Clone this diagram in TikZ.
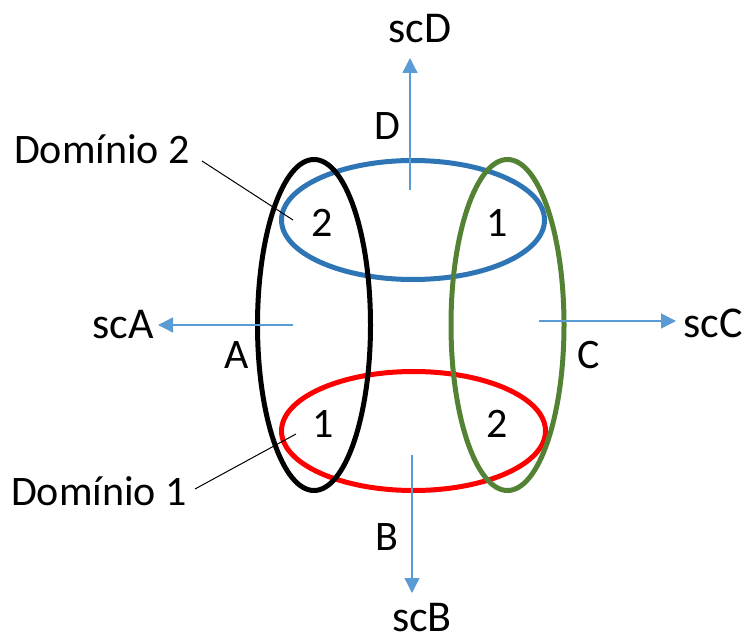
\documentclass[tikz,border=0pt]{standalone}
\usepackage{fontspec}
\setmainfont{Carlito}
\usetikzlibrary{arrows.meta}
\definecolor{ringblue}{HTML}{2E75B6}
\definecolor{ringgreen}{HTML}{548235}
\definecolor{arrowblue}{HTML}{5B9BD5}
\definecolor{ringred}{HTML}{FF0000}
\tikzset{
  ring/.style={line width=5pt},
  scarrow/.style={draw=arrowblue, line width=1.3pt, -{Triangle[width=15pt,length=15pt]}},
  lbl/.style={font=\fontsize{42}{50}\selectfont, anchor=base, inner sep=0pt},
  sclbl/.style={font=\fontsize{44}{50}\selectfont, anchor=base, inner sep=0pt},
  leader/.style={draw=black, line width=1pt}
}
\begin{document}
\begin{tikzpicture}[x=1pt,y=-1pt]
\useasboundingbox (0,0) rectangle (749,636);
% rings
\draw[ring, ringblue] (413,220) ellipse [x radius=131.5, y radius=59.5];
\draw[ring, ringred] (413.5,431) ellipse [x radius=132, y radius=59.5];
\draw[ring, black] (314,325) ellipse [x radius=56.5, y radius=165.5];
\draw[ring, ringgreen] (507.5,325) ellipse [x radius=56.5, y radius=165.5];
% arrows
\coordinate (dS) at (410,190); \coordinate (dE) at (410,58);
\coordinate (bS) at (412,455); \coordinate (bE) at (412,593);
\coordinate (aS) at (293,325); \coordinate (aE) at (158,325);
\coordinate (cS) at (539,321); \coordinate (cE) at (676,321);
\draw[scarrow] (dS) -- (dE);
\draw[scarrow] (bS) -- (bE);
\draw[scarrow] (aS) -- (aE);
\draw[scarrow] (cS) -- (cE);
% labels
\node[sclbl] (scD) at (420,43) {scD};
\node[lbl] (D) at (387,140) {D};
\node[lbl] (B) at (387,550) {B};
\node[sclbl] (scB) at (422,631) {scB};
\node[sclbl] (scA) at (123,338) {scA};
\node[lbl] (A) at (237,368) {A};
\node[sclbl] (scC) at (713,337) {scC};
\node[lbl] (C) at (589,368) {C};
\node[lbl] (dom2) at (102,164) {Domínio 2};
\node[lbl] (dom1) at (99,505) {Domínio 1};
\node[lbl] (n2a) at (322,237) {2};
\node[lbl] (n1a) at (497,237) {1};
\node[lbl] (n1b) at (323,437) {1};
\node[lbl] (n2b) at (497,437) {2};
% leaders
\coordinate (l2a) at (202,161); \coordinate (l2b) at (293,220);
\coordinate (l1a) at (195,489); \coordinate (l1b) at (296,434);
\draw[leader] (l2a) -- (l2b);
\draw[leader] (l1a) -- (l1b);
\end{tikzpicture}
\end{document}
